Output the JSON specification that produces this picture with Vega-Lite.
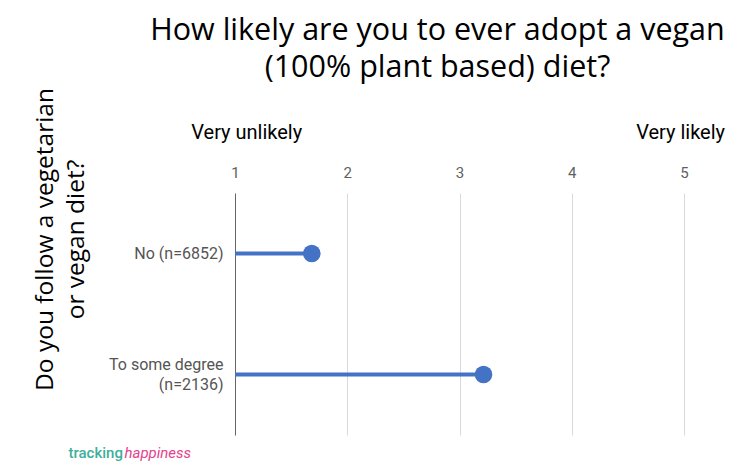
{
  "$schema": "https://vega.github.io/schema/vega-lite/v6.json",
  "width": 449,
  "height": 242,
  "autosize": {"type": "none"},
  "padding": {"left": 235, "top": 193, "right": 60, "bottom": 41},
  "background": "white",
  "config": {"view": {"stroke": null}},
  "title": {
    "text": ["How likely are you to ever adopt a vegan", "(100% plant based) diet?"],
    "font": "Open Sans",
    "fontSize": 30.5,
    "fontWeight": "normal",
    "color": "#000000",
    "lineHeight": 37,
    "anchor": "middle",
    "frame": "group",
    "dx": -22,
    "offset": 4
  },
  "data": {
    "values": [
      {"group": "No (n=6852)", "score": 1.684},
      {"group": "To some degree (n=2136)", "score": 3.214}
    ]
  },
  "encoding": {
    "y": {
      "field": "group",
      "type": "nominal",
      "sort": null,
      "scale": {"paddingInner": 0, "paddingOuter": 0},
      "axis": {
        "title": ["Do you follow a vegetarian", "or vegan diet?"],
        "titleFont": "Open Sans",
        "titleFontSize": 24.5,
        "titleFontWeight": "normal",
        "titleColor": "#000000",
        "titleLineHeight": 31,
        "titleAngle": -90,
        "titleX": -190,
        "titleY": 46,
        "titleAlign": "center",
        "titleBaseline": "middle",
        "labelFont": "Roboto",
        "labelFontSize": 16,
        "labelColor": "#555555",
        "labelPadding": 12,
        "labelLineHeight": 20,
        "labelOffset": {"condition": {"test": "datum.value == 'To some degree (n=2136)'", "value": -10}, "value": 0},
        "labelExpr": "datum.label == 'To some degree (n=2136)' ? ['To some degree', '(n=2136)'] : datum.label",
        "ticks": false,
        "domain": true,
        "domainColor": "#666666",
        "domainWidth": 1,
        "grid": false
      }
    }
  },
  "layer": [
    {
      "mark": {"type": "rule", "color": "#4472c4", "strokeWidth": 4},
      "encoding": {
        "x": {
          "field": "score",
          "type": "quantitative",
          "scale": {"domain": [1, 5], "nice": false, "zero": false},
          "axis": {
            "orient": "top",
            "title": null,
            "values": [1, 2, 3, 4, 5],
            "format": "d",
            "labelFont": "Roboto",
            "labelFontSize": 15,
            "labelColor": "#5f5f5f",
            "labelPadding": 13,
            "labelFlush": false,
            "ticks": false,
            "domain": false,
            "grid": true,
            "gridColor": "#d9d9d9",
            "gridWidth": 1
          }
        },
        "x2": {"datum": 1}
      }
    },
    {
      "mark": {"type": "point", "filled": true, "color": "#4472c4", "opacity": 1, "size": 310},
      "encoding": {
        "x": {
          "field": "score",
          "type": "quantitative",
          "scale": {"domain": [1, 5], "nice": false, "zero": false},
          "axis": {
            "orient": "top",
            "title": null,
            "values": [1.1, 4.965],
            "labelExpr": "datum.value < 3 ? 'Very unlikely' : 'Very likely'",
            "labelFont": "Roboto",
            "labelFontSize": 20,
            "labelColor": "#000000",
            "labelPadding": 0,
            "labelFlush": false,
            "labelOverlap": false,
            "offset": 51,
            "ticks": false,
            "domain": false,
            "grid": false
          }
        }
      }
    },
    {
      "mark": {"type": "point", "opacity": 0},
      "encoding": {
        "x": {
          "field": "score",
          "type": "quantitative",
          "scale": {"domain": [1, 5], "nice": false, "zero": false},
          "axis": {
            "orient": "bottom",
            "title": "tracking",
            "titleFont": "Roboto",
            "titleFontSize": 15,
            "titleFontWeight": 500,
            "titleColor": "#3fae9c",
            "titleX": -167,
            "titleY": 17,
            "titleAlign": "left",
            "titleBaseline": "middle",
            "labels": false,
            "ticks": false,
            "domain": false,
            "grid": false
          }
        }
      }
    },
    {
      "mark": {"type": "point", "opacity": 0},
      "encoding": {
        "x": {
          "field": "score",
          "type": "quantitative",
          "scale": {"domain": [1, 5], "nice": false, "zero": false},
          "axis": {
            "orient": "bottom",
            "title": "happiness",
            "titleFont": "Roboto",
            "titleFontSize": 15,
            "titleFontWeight": "normal",
            "titleFontStyle": "italic",
            "titleColor": "#e5428e",
            "titleX": -111,
            "titleY": 17,
            "titleAlign": "left",
            "titleBaseline": "middle",
            "labels": false,
            "ticks": false,
            "domain": false,
            "grid": false
          }
        }
      }
    }
  ],
  "resolve": {"scale": {"x": "independent"}, "axis": {"x": "independent"}}
}
